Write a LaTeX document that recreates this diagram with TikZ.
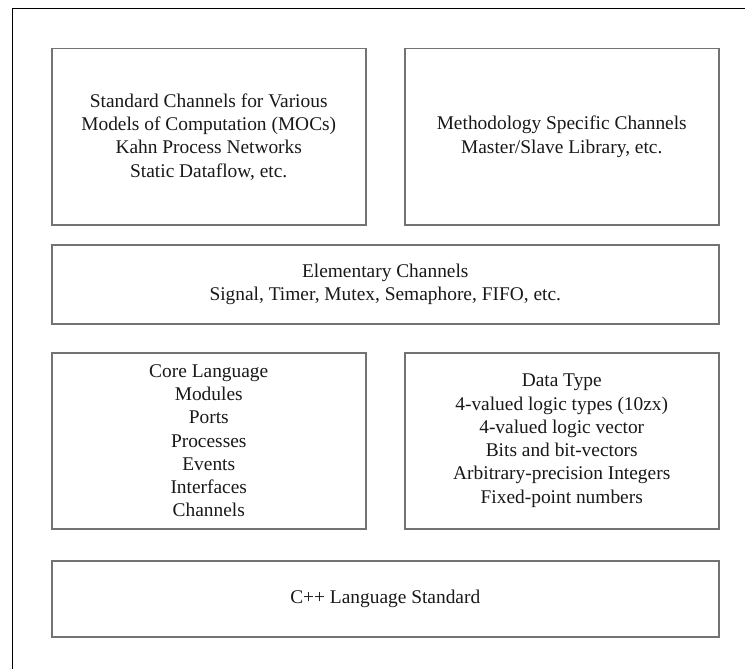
\documentclass[tikz,border=0pt]{standalone}
\usepackage{fontspec}
\setmainfont{Liberation Serif}
\begin{document}
\begin{tikzpicture}[x=1pt,y=-1pt,
  layer/.style={draw=black!55, line width=1.5pt, fill=white, anchor=north west,
    align=center, inner sep=0pt, font=\fontsize{19.4}{23.3}\selectfont, text=black!90},
  frameline/.style={draw=black, line width=1pt}]
  \useasboundingbox[fill=white] (0,0) rectangle (745,669);
  % enclosing frame (top and left edges)
  \draw[frameline] (12,669) -- (12,9) -- (745,9);

  \node[layer, minimum width=314pt, minimum height=176pt] (mocs) at (51,48)
    {Standard Channels for Various\\Models of Computation (MOCs)\\Kahn Process Networks\\Static Dataflow, etc.};
  \node[layer, minimum width=314pt, minimum height=176pt] (method) at (404,48)
    {Methodology Specific Channels\\Master/Slave Library, etc.};
  \node[layer, minimum width=667pt, minimum height=79pt] (elem) at (51,244)
    {Elementary Channels\\Signal, Timer, Mutex, Semaphore, FIFO, etc.};
  \node[layer, minimum width=314pt, minimum height=176pt] (core) at (51,352)
    {Core Language\\Modules\\Ports\\Processes\\Events\\Interfaces\\Channels};
  \node[layer, minimum width=314pt, minimum height=176pt] (dtype) at (404,352)
    {Data Type\\4-valued logic types (10zx)\\4-valued logic vector\\Bits and bit-vectors\\Arbitrary-precision Integers\\Fixed-point numbers};
  \node[layer, minimum width=667pt, minimum height=76pt] (cpp) at (51,560)
    {C++ Language Standard};
\end{tikzpicture}
\end{document}
